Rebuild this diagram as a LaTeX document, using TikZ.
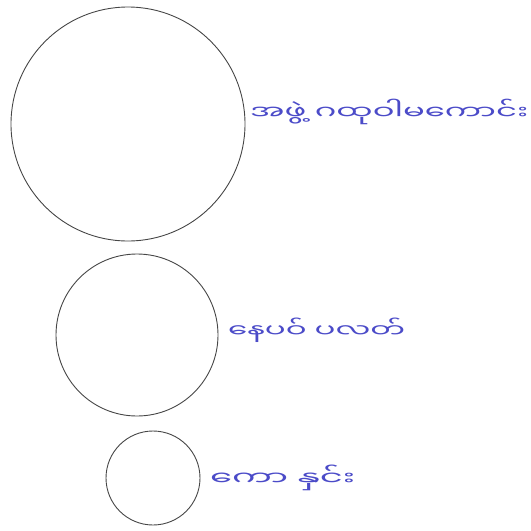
\documentclass[tikz,border=0pt]{standalone}
\usepackage{fontspec}
\usepackage{graphicx}
\newfontfamily\myan[Script=Myanmar]{Noto Sans Myanmar UI}
\definecolor{inkblue}{RGB}{75,75,200}
\definecolor{ringgray}{RGB}{70,70,70}
\begin{document}
\begin{tikzpicture}[x=1pt,y=-1pt,
  ring/.style={draw=ringgray,line width=0.9pt},
  lbl/.style={anchor=west,text=inkblue,inner sep=0pt,font=\myan\fontsize{18}{20}\selectfont}]
\useasboundingbox (0,0) rectangle (531,531);
\node[ring,circle,minimum size=234pt,inner sep=0pt] (big) at (128,124) {};
\node[ring,circle,minimum size=162pt,inner sep=0pt] (mid) at (137,335) {};
\node[ring,circle,minimum size=94pt,inner sep=0pt] (small) at (153,478) {};
\node[lbl] (t1) at (250,112) {\resizebox{278pt}{!}{\scalebox{1}[0.6]{အဖွဲ့ ဂထုဝါမကောင်း}}};
\node[lbl] (t2) at (228,330) {\resizebox{177pt}{!}{\scalebox{1}[0.6]{နေပဝ် ပလတ်}}};
\node[lbl] (t3) at (210,478) {\resizebox{145pt}{!}{\scalebox{1}[0.55]{ကော နှင်း}}};
\end{tikzpicture}
\end{document}
